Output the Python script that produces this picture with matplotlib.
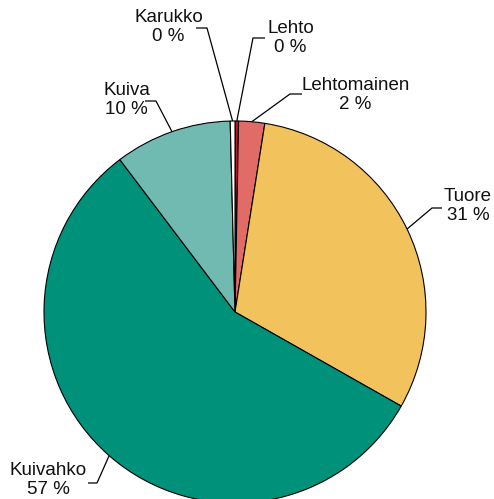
import numpy as np
import matplotlib
matplotlib.use("Agg")
import matplotlib.pyplot as plt

plt.rcParams['font.family'] = ['Liberation Sans', 'DejaVu Sans']

categories = ["Lehto", "Lehtomainen", "Tuore", "Kuivahko", "Kuiva", "Karukko"]
values = [0.3, 2.2, 30.7, 56.5, 9.9, 0.4]
pct_labels = ["0 %", "2 %", "31 %", "57 %", "10 %", "0 %"]
colors = ["#c8102e", "#e06b67", "#f2c25c", "#00917a", "#70bab1", "#ffffff"]

W, H = 494, 499
fig = plt.figure(figsize=(W / 100, H / 100), dpi=100)
ax = fig.add_axes([0, 0, 1, 1])

cx, cy, R = 235, H - 312, 191
wedges, _ = ax.pie(values, colors=colors, startangle=90, counterclock=False,
                   center=(cx, cy), radius=R, frame=True,
                   wedgeprops=dict(edgecolor='black', linewidth=0.8))
ax.set_xlim(0, W)
ax.set_ylim(0, H)
ax.set_aspect('equal')
ax.axis('off')

# label layout: (elbow x, elbow y, end x, text anchor x, ha, text centre y) in pixels (y from top)
layout = {
    "Lehto": (253, 38, 265, 267, 'left', 38),
    "Lehtomainen": (290, 94, 302, 301, 'left', 95),
    "Tuore": (432, 208, 442, 444, 'left', 206),
    "Kuivahko": (97, 483, 88, 87, 'right', 480),
    "Kuiva": (156, 101, 145, 150, 'right', 100),
    "Karukko": (207, 28, 196, 203, 'right', 27),
}

for w, cat, lab in zip(wedges, categories, pct_labels):
    ang = np.deg2rad((w.theta1 + w.theta2) / 2)
    ex, ey = cx + R * np.cos(ang), cy + R * np.sin(ang)
    bx, by, endx, tx, ha, ty = layout[cat]
    by = H - by
    ax.plot([ex, bx, endx], [ey, by, by], color='black', linewidth=0.9,
            solid_capstyle='butt', clip_on=False)
    ax.text(tx, H - ty, f"{cat}\n{lab}", ha=ha, va='center', multialignment='center',
            fontsize=13.5, linespacing=1.2, color='#111111')

fig.savefig("out.png", dpi=100)
